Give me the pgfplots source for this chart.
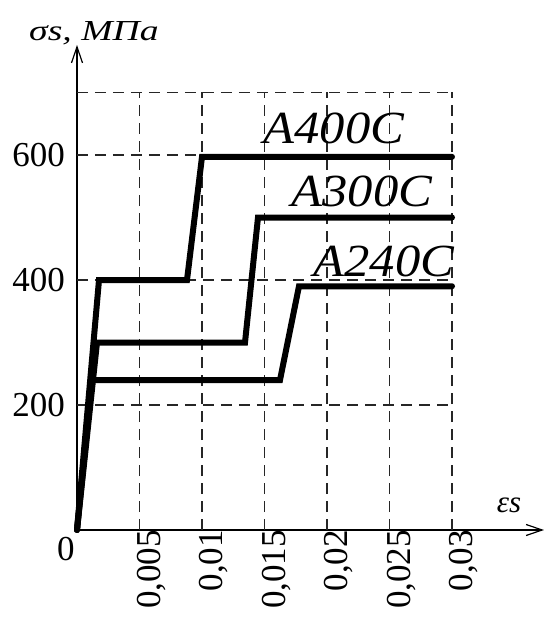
\documentclass[border=0pt]{standalone}
\usepackage{fontspec}
\setmainfont{Liberation Serif}
\usepackage{pgfplots}
\pgfplotsset{compat=1.18}
\usetikzlibrary{arrows.meta}
\begin{document}
\begin{tikzpicture}
\useasboundingbox (-77pt,-95pt) rectangle (467pt,530pt);
\begin{axis}[
  at={(0pt,0pt)}, anchor=origin,
  scale only axis, width=467pt, height=485pt,
  xmin=0, xmax=0.03736, ymin=0, ymax=776,
  axis lines=left,
  axis line style={line width=1.4pt, -{Straight Barb[length=16pt,width=11pt,line width=1.2pt]}},
  clip=false,
  scaled x ticks=false, scaled y ticks=false,
  xtick={0.005,0.01,0.015,0.02,0.025,0.03},
  xticklabels={{0,005},{0,01},{0,015},{0,02},{0,025},{0,03}},
  ytick={200,400,600},
  yticklabels={200,400,600},
  major tick length=0pt,
  tick style={draw=none},
  ticklabel style={font=\fontsize{35}{35}\selectfont},
  xticklabel style={rotate=90, anchor=east, inner sep=0pt, yshift=-12pt},
  yticklabel style={anchor=east, inner sep=0pt, xshift=-12pt},
]
\foreach \xx in {0.005,0.01,0.015,0.02,0.025,0.03}{
  \edef\tmp{\noexpand\draw[black!85, line width=1.8pt, dash pattern=on 11pt off 7pt] (axis cs:\xx,0) -- (axis cs:\xx,700);}
  \tmp
}
\foreach \yy in {200,400,600,700}{
  \edef\tmp{\noexpand\draw[black!85, line width=1.8pt, dash pattern=on 11pt off 7pt] (axis cs:0,\yy) -- (axis cs:0.03,\yy);}
  \tmp
}
\addplot[black, line width=6pt, line cap=round, line join=miter] coordinates {(0,0) (0.00176,400) (0.0088,400) (0.01,597) (0.03,597)};
\addplot[black, line width=6pt, line cap=round, line join=miter] coordinates {(0,0) (0.0016,300) (0.01344,300) (0.01448,500) (0.03,500)};
\addplot[black, line width=6pt, line cap=round, line join=miter] coordinates {(0,0) (0.0012,240) (0.01624,240) (0.01776,390) (0.03,390)};
\node[font=\fontsize{46}{46}\selectfont\itshape, xscale=1.1] at (axis cs:0.02056,643) {A400C};
\node[font=\fontsize{46}{46}\selectfont\itshape, xscale=1.1] at (axis cs:0.0228,541) {A300C};
\node[font=\fontsize{46}{46}\selectfont\itshape, xscale=1.1] at (axis cs:0.02456,429) {A240C};
\node[font=\fontsize{29}{29}\selectfont\itshape, xscale=1.3] at (axis cs:0.00136,795) {σs, МПа};
\node[font=\fontsize{31}{31}\selectfont\itshape] at (axis cs:0.03456,40) {εs};
\node[font=\fontsize{35}{35}\selectfont] at (axis cs:-0.00088,-30) {0};
\end{axis}
\end{tikzpicture}
\end{document}
